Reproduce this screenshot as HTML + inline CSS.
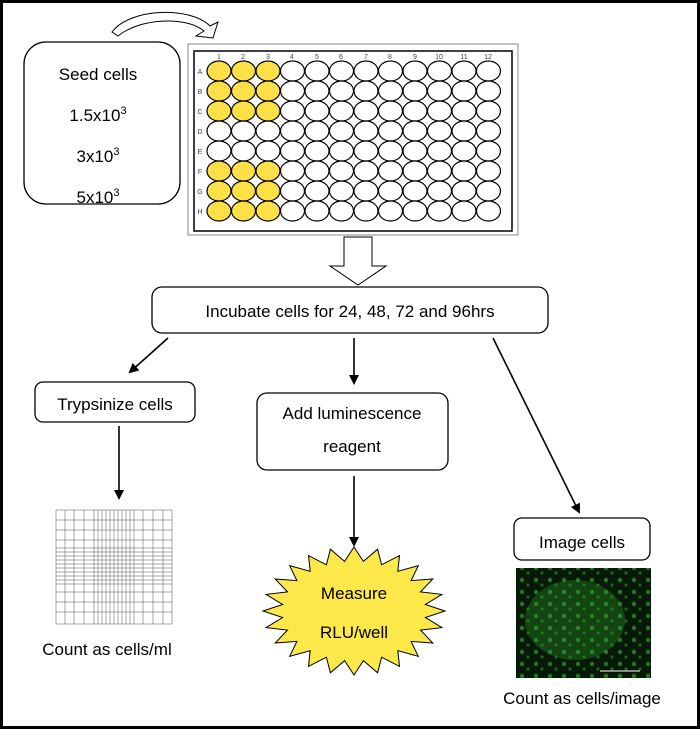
<!DOCTYPE html>
<html><head><style>
body{margin:0;background:#fff}
svg{display:block;font-family:"Liberation Sans",sans-serif}
</style></head><body>
<svg width="700" height="729" viewBox="0 0 700 729" xmlns="http://www.w3.org/2000/svg">
<defs>
<marker id="ah" markerWidth="10" markerHeight="10" refX="8" refY="5" orient="auto" markerUnits="userSpaceOnUse">
<path d="M0,0 L10,5 L0,10 Z" fill="#000"/></marker>
<pattern id="cells" width="14" height="12" patternUnits="userSpaceOnUse"><circle cx="4" cy="4" r="2.2" fill="#3fc23f"/><circle cx="10" cy="9" r="1.6" fill="#2aa02a"/></pattern>
</defs>
<rect x="1.5" y="1.5" width="697" height="726" fill="#fff" stroke="#000" stroke-width="3"/>
<path d="M112,32 C130,8 190,6 210,26 L218,22 L213,38 L196,36 L204,31 C186,16 140,18 118,36 Z" fill="#fff" stroke="#000" stroke-width="1"/>
<rect x="24" y="42" width="156" height="162" rx="22" fill="#fff" stroke="#000" stroke-width="1.3"/>
<g font-size="17" text-anchor="middle" fill="#000">
<text x="98" y="80">Seed cells</text>
<text x="98" y="121">1.5x10<tspan font-size="11" dy="-7">3</tspan></text>
<text x="98" y="162">3x10<tspan font-size="11" dy="-7">3</tspan></text>
<text x="98" y="203">5x10<tspan font-size="11" dy="-7">3</tspan></text>
</g>
<rect x="188" y="44" width="330" height="191" fill="#fff" stroke="#888" stroke-width="1"/>
<rect x="194" y="51" width="318" height="180" fill="#fff" stroke="#000" stroke-width="1.5"/>
<g font-size="7" fill="#444" text-anchor="middle">
<text x="219" y="59">1</text><text x="243" y="59">2</text><text x="268" y="59">3</text><text x="292" y="59">4</text><text x="317" y="59">5</text><text x="341" y="59">6</text><text x="366" y="59">7</text><text x="390" y="59">8</text><text x="415" y="59">9</text><text x="439" y="59">10</text><text x="464" y="59">11</text><text x="488" y="59">12</text>
<text x="200" y="74">A</text><text x="200" y="94">B</text><text x="200" y="114">C</text><text x="200" y="134">D</text><text x="200" y="154">E</text><text x="200" y="174">F</text><text x="200" y="194">G</text><text x="200" y="214">H</text>
</g>
<g id="wells" stroke="#000" stroke-width="1.2"></g>
<path d="M344,237 L372,237 L372,266 L386,266 L358,285 L330,266 L344,266 Z" fill="#fff" stroke="#000" stroke-width="1"/>
<rect x="152" y="287" width="396" height="46" rx="10" fill="#fff" stroke="#000" stroke-width="1.3"/>
<text x="350" y="317" font-size="17" text-anchor="middle">Incubate cells for 24, 48, 72 and 96hrs</text>
<g stroke="#000" stroke-width="1.6" marker-end="url(#ah)">
<line x1="168" y1="338" x2="130" y2="372"/>
<line x1="354" y1="338" x2="354" y2="383"/>
<line x1="493" y1="338" x2="579" y2="512"/>
<line x1="119" y1="426" x2="119" y2="498"/>
<line x1="354" y1="476" x2="354" y2="545"/>
</g>
<rect x="35" y="382" width="160" height="40" rx="8" fill="#fff" stroke="#000" stroke-width="1.3"/>
<text x="115" y="410" font-size="17" text-anchor="middle">Trypsinize cells</text>
<rect x="257" y="393" width="191" height="77" rx="10" fill="#fff" stroke="#000" stroke-width="1.3"/>
<text x="352" y="419" font-size="17" text-anchor="middle">Add luminescence</text>
<text x="352" y="452" font-size="17" text-anchor="middle">reagent</text>
<rect x="514" y="518" width="136" height="42" rx="8" fill="#fff" stroke="#000" stroke-width="1.3"/>
<text x="582" y="548" font-size="17" text-anchor="middle">Image cells</text>
<g id="grid" stroke="#555" stroke-width="0.5"></g>
<text x="107" y="655" font-size="17" text-anchor="middle">Count as cells/ml</text>
<polygon id="star" fill="#fde84a" stroke="#000" stroke-width="1"/>
<text x="354" y="599" font-size="17" text-anchor="middle">Measure</text>
<text x="354" y="638" font-size="17" text-anchor="middle">RLU/well</text>
<rect x="516" y="568" width="135" height="110" fill="#071a07"/>
<rect x="516" y="568" width="135" height="110" fill="url(#cells)" opacity="0.55"/>
<ellipse cx="575" cy="620" rx="50" ry="40" fill="#2ea82e" opacity="0.3"/>
<line x1="600" y1="671" x2="640" y2="671" stroke="#fff" stroke-width="1"/>
<text x="582" y="704" font-size="17" text-anchor="middle">Count as cells/image</text>
</svg>
<script>
var ns="http://www.w3.org/2000/svg",w=document.getElementById("wells");
var yl=[0,1,2,5,6,7];
for(var r=0;r<8;r++)for(var c=0;c<12;c++){var e=document.createElementNS(ns,"ellipse");
e.setAttribute("cx",219+c*24.5);e.setAttribute("cy",71+r*20);e.setAttribute("rx",12);e.setAttribute("ry",10);
e.setAttribute("fill",(c<3&&yl.indexOf(r)>=0)?"#fde047":"#fff");w.appendChild(e);}
var g=document.getElementById("grid");
function L(x1,y1,x2,y2){var l=document.createElementNS(ns,"line");l.setAttribute("x1",x1);l.setAttribute("y1",y1);l.setAttribute("x2",x2);l.setAttribute("y2",y2);g.appendChild(l);}
var xs=[56,65,74,84,94,98,102,106,110,114,118,122,126,130,134,143,153,163,172];
xs.forEach(function(x){L(x,510,x,624);});
var ys=[510,520,530,540,548,552,556,560,564,568,572,576,580,584,592,602,612,624];
ys.forEach(function(y){L(56,y,172,y);});
var p=[],n=24,cx=354,cy=611,R=91,Ry=64,r2=72,ry2=50;
for(var i=0;i<2*n;i++){var a=Math.PI*i/n-Math.PI/2,o=i%2==0;p.push((cx+Math.cos(a)*(o?R:r2)).toFixed(1)+","+(cy+Math.sin(a)*(o?Ry:ry2)).toFixed(1));}
document.getElementById("star").setAttribute("points",p.join(" "));
</script>
</body></html>
